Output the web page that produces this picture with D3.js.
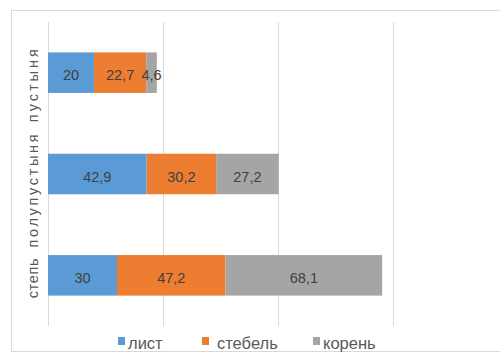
<!DOCTYPE html>
<html>
<head>
<meta charset="utf-8">
<script src="https://cdn.jsdelivr.net/npm/d3@7"></script>
<style>
  html, body { margin: 0; padding: 0; background: #fff; }
  svg { display: block; font-family: "Liberation Sans", Arial, sans-serif; }
</style>
</head>
<body>
<svg id="chart" width="500" height="354"></svg>
<script>
// Zones (top to bottom) and plant-part shares
const zones = ["пустыня", "полупустыня", "степь"];
const seriesNames = ["лист", "стебель", "корень"];
const leaf = [20, 42.9, 30];
const stem = [22.7, 30.2, 47.2];
const root = [4.6, 27.2, 68.1];
const xTicks = [0, 50, 100, 150];

const colors = ["#5b9bd5", "#ed7d31", "#a5a5a5"];

const rows = zones.map((z, i) => ({ zone: z, "лист": leaf[i], "стебель": stem[i], "корень": root[i] }));

const svg = d3.select("#chart");

// chart frame
svg.append("rect")
  .attr("x", 11.5).attr("y", 10.5)
  .attr("width", 500).attr("height", 341)
  .attr("fill", "#fff").attr("stroke", "#d9d9d9").attr("stroke-width", 1);

const x = d3.scaleLinear().domain([0, 150]).range([48, 393]);
const y = d3.scaleBand().domain(zones).range([22, 326]).paddingInner(0.6).paddingOuter(0.3);

// vertical gridlines
svg.append("g").selectAll("line").data(xTicks).join("line")
  .attr("x1", d => Math.round(x(d)) + 0.5).attr("x2", d => Math.round(x(d)) + 0.5)
  .attr("y1", 22).attr("y2", 326)
  .attr("stroke", "#d9d9d9").attr("stroke-width", 1);

// stacked bars
const stack = d3.stack().keys(seriesNames)(rows);
const layers = svg.append("g").selectAll("g").data(stack).join("g")
  .attr("fill", (d, i) => colors[i]);

layers.selectAll("rect").data(d => d).join("rect")
  .attr("x", d => x(d[0]))
  .attr("y", d => y(d.data.zone))
  .attr("width", d => x(d[1]) - x(d[0]))
  .attr("height", y.bandwidth());

// value labels inside segments
layers.selectAll("text").data((d) => d.map(s => ({ s, key: d.key }))).join("text")
  .attr("x", d => (x(d.s[0]) + x(d.s[1])) / 2)
  .attr("y", d => y(d.s.data.zone) + y.bandwidth() / 2 + 7.5)
  .attr("text-anchor", "middle")
  .attr("fill", "#404040")
  .attr("font-size", 14.5)
  .text(d => String(d.s.data[d.key]).replace(".", ","));

// rotated category labels
const labelShift = [13, 17, 3];
const labelLen = [73, 113, 40];
svg.append("g").selectAll("text").data(zones).join("text")
  .attr("transform", (d, i) => `translate(38,${y(d) + y.bandwidth() / 2 + labelShift[i]}) rotate(-90)`)
  .attr("text-anchor", "middle")
  .attr("fill", "#595959")
  .attr("font-size", 14.5)
  .attr("textLength", (d, i) => labelLen[i])
  .attr("lengthAdjust", "spacing")
  .text(d => d);

// legend
const legendX = [118, 202, 313];
const legend = svg.append("g").selectAll("g").data(seriesNames).join("g")
  .attr("transform", (d, i) => `translate(${legendX[i]},337)`);
legend.append("rect").attr("width", 7).attr("height", 8).attr("fill", (d, i) => colors[i]);
legend.append("text")
  .attr("x", (d, i) => i === 1 ? 15 : 10).attr("y", 12)
  .attr("fill", "#595959")
  .attr("font-size", 16.5)
  .text(d => d);
</script>
</body>
</html>
